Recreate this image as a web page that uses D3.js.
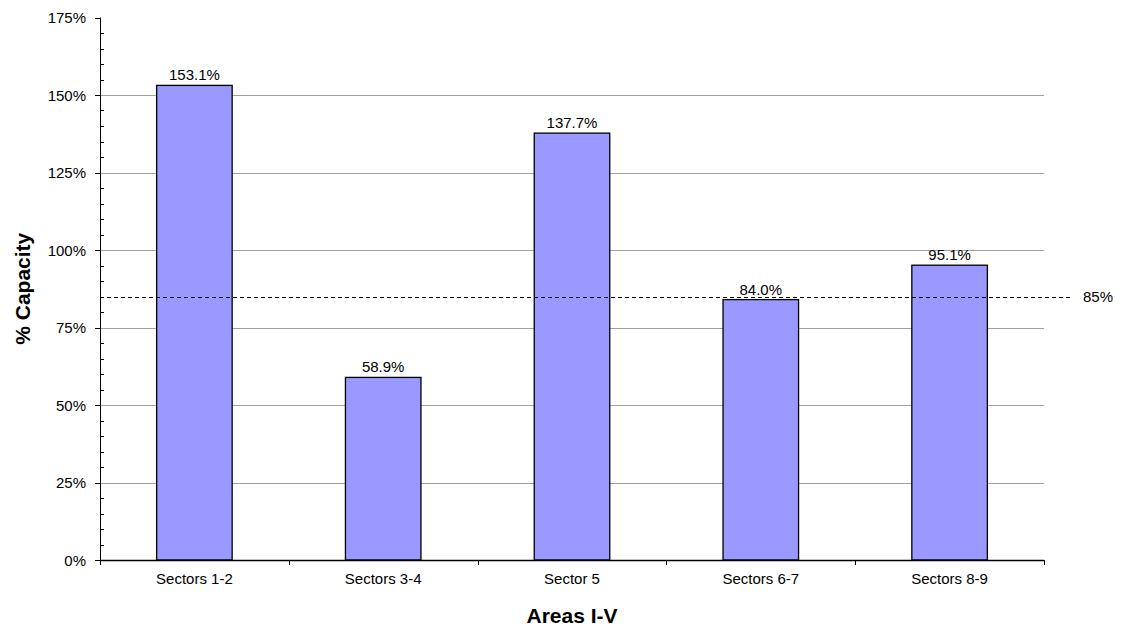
<!DOCTYPE html>
<html>
<head>
<meta charset="utf-8">
<script src="https://cdn.jsdelivr.net/npm/d3@7"></script>
<style>
  html, body { margin: 0; padding: 0; background: #fff; }
  svg { display: block; font-family: "Liberation Sans", Arial, sans-serif; }
</style>
</head>
<body>
<svg id="chart" width="1122" height="626"></svg>
<script>
// Capacity utilisation by sector
const categories = ["Sectors 1-2", "Sectors 3-4", "Sector 5", "Sectors 6-7", "Sectors 8-9"];
const capacity = [153.1, 58.9, 137.7, 84.0, 95.1];
const yTicks = [0, 25, 50, 75, 100, 125, 150, 175];
const threshold = 85;

const svg = d3.select("#chart");
const plotLeft = 100, plotRight = 1044, plotTop = 17.5, plotBottom = 560;

const x = d3.scaleBand().domain(categories).range([plotLeft, plotRight]).padding(0);
const y = d3.scaleLinear().domain([0, 175]).range([plotBottom, plotTop]);
const py = v => Math.round(y(v)) + 0.5;

// horizontal gridlines
svg.append("g").selectAll("line").data(yTicks.filter(d => d > 0 && d < 175)).join("line")
  .attr("x1", plotLeft).attr("x2", plotRight)
  .attr("y1", py).attr("y2", py)
  .attr("stroke", "#a0a0a0").attr("stroke-width", 1);

// bars
const barW = x.bandwidth() * 0.4;
svg.append("g").selectAll("rect").data(capacity).join("rect")
  .attr("x", (d, i) => x(categories[i]) + x.bandwidth() / 2 - barW / 2)
  .attr("y", d => y(d))
  .attr("width", barW)
  .attr("height", d => y(0) - y(d))
  .attr("fill", "#9999ff")
  .attr("stroke", "#000").attr("stroke-width", 1.3);

// value labels
svg.append("g").selectAll("text").data(capacity).join("text")
  .attr("x", (d, i) => x(categories[i]) + x.bandwidth() / 2)
  .attr("y", d => y(d) - 5)
  .attr("text-anchor", "middle")
  .attr("font-size", 15)
  .attr("fill", "#000")
  .text(d => d.toFixed(1) + "%");

// threshold line
svg.append("line")
  .attr("x1", plotLeft).attr("x2", 1071)
  .attr("y1", py(threshold)).attr("y2", py(threshold))
  .attr("stroke", "#000").attr("stroke-width", 1)
  .attr("stroke-dasharray", "4,3");
svg.append("text")
  .attr("x", 1083).attr("y", y(threshold) + 5.5)
  .attr("font-size", 15)
  .text(threshold + "%");

// y axis with minor ticks
const yAxis = svg.append("g");
yAxis.append("line").attr("x1", plotLeft + 0.5).attr("x2", plotLeft + 0.5)
  .attr("y1", plotTop).attr("y2", plotBottom).attr("stroke", "#000");
const minor = d3.range(0, 176, 5).filter(d => d % 25 !== 0);
yAxis.selectAll("line.minor").data(minor).join("line").attr("class", "minor")
  .attr("x1", plotLeft).attr("x2", plotLeft + 4)
  .attr("y1", py).attr("y2", py)
  .attr("stroke", "#000");
yAxis.selectAll("line.major").data(yTicks).join("line").attr("class", "major")
  .attr("x1", plotLeft - 5).attr("x2", plotLeft)
  .attr("y1", py).attr("y2", py)
  .attr("stroke", "#000");
yAxis.selectAll("text").data(yTicks).join("text")
  .attr("x", plotLeft - 14).attr("y", d => y(d) + 5.5)
  .attr("text-anchor", "end").attr("font-size", 15)
  .text(d => d + "%");

// x axis
const xAxis = svg.append("g");
xAxis.append("line").attr("x1", plotLeft).attr("x2", plotRight)
  .attr("y1", plotBottom + 0.5).attr("y2", plotBottom + 0.5).attr("stroke", "#000").attr("stroke-width", 1.3);
const bounds = categories.map(c => x(c)).concat([plotRight]);
xAxis.selectAll("line.tick").data(bounds).join("line").attr("class", "tick")
  .attr("x1", d => Math.round(d) + 0.5).attr("x2", d => Math.round(d) + 0.5)
  .attr("y1", plotBottom).attr("y2", plotBottom + 5).attr("stroke", "#000");
xAxis.selectAll("text").data(categories).join("text")
  .attr("x", d => x(d) + x.bandwidth() / 2).attr("y", 584)
  .attr("text-anchor", "middle").attr("font-size", 15)
  .text(d => d);

// axis titles
svg.append("text")
  .attr("x", (plotLeft + plotRight) / 2).attr("y", 623)
  .attr("text-anchor", "middle").attr("font-size", 21).attr("font-weight", "bold")
  .text("Areas I-V");
svg.append("text")
  .attr("transform", "translate(30," + ((plotTop + plotBottom) / 2) + ") rotate(-90)")
  .attr("text-anchor", "middle").attr("font-size", 21).attr("font-weight", "bold")
  .text("% Capacity");
</script>
</body>
</html>
